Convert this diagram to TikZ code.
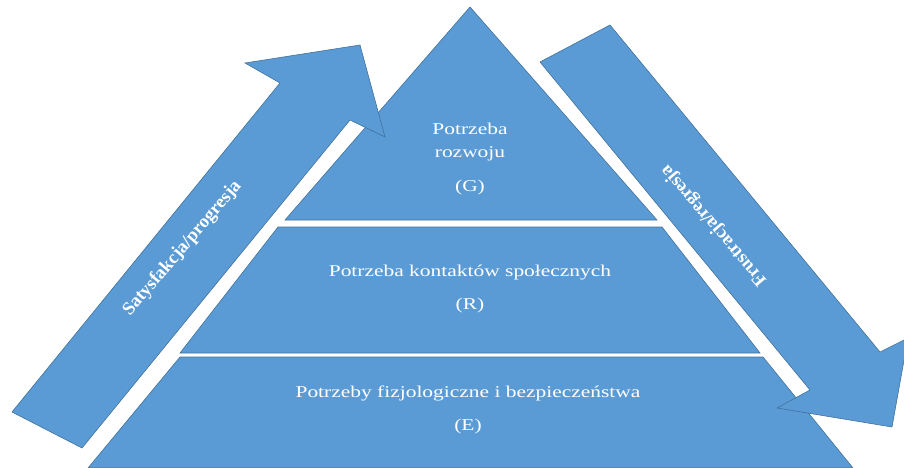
\documentclass[tikz,border=0pt]{standalone}
\usepackage{fontspec}
\newfontfamily\labfont[FakeStretch=1.3]{Liberation Serif}
\newfontfamily\arrfont{Liberation Serif}
\definecolor{bluefill}{RGB}{91,155,213}
\definecolor{blueline}{RGB}{65,113,156}
\tikzset{
  shapebox/.style={fill=bluefill, draw=blueline, line width=0.6pt, line join=miter},
  lbl/.style={text=white, font=\labfont\fontsize{16.5}{20}\selectfont, inner sep=0pt},
  lblbase/.style={lbl, anchor=base},
  arrlbl/.style={text=white, font=\arrfont\bfseries\fontsize{18.5}{22}\selectfont, inner sep=0pt},
}
\begin{document}
\begin{tikzpicture}[x=1pt,y=-1pt]
\useasboundingbox (0,0) rectangle (904,468);
% pyramid tiers
\draw[shapebox] (470,7) -- (657,220) -- (285,220) -- cycle;
\draw[shapebox] (278,227) -- (662,227) -- (760,353) -- (180,353) -- cycle;
\draw[shapebox] (180,357) -- (763,357) -- (853,468) -- (88,468) -- cycle;
% arrows
\draw[shapebox] (12,412) -- (280,83) -- (245,63) -- (360,45) -- (385,137) -- (350,120) -- (82,448) -- cycle;
\draw[shapebox] (540,62) -- (610,25) -- (880,352) -- (908,338) -- (892,427) -- (777,408) -- (810,390) -- cycle;
% labels
\node[lblbase] (g1) at (470,134) {Potrzeba};
\node[lblbase] (g2) at (470,157) {rozwoju};
\node[lblbase] (g3) at (470,191) {(G)};
\node[lblbase] (r1) at (470,276) {Potrzeba kontaktów społecznych};
\node[lblbase] (r2) at (470,309) {(R)};
\node[lblbase] (e1) at (468,397) {Potrzeby fizjologiczne i bezpieczeństwa};
\node[lblbase] (e2) at (468,430) {(E)};
\node[arrlbl, rotate=49.5] (sat) at (182.5,248.5) {Satysfakcja/progresja};
\node[arrlbl, rotate=130.5] (fru) at (714,225.5) {Frustracja/regresja};
\end{tikzpicture}
\end{document}
